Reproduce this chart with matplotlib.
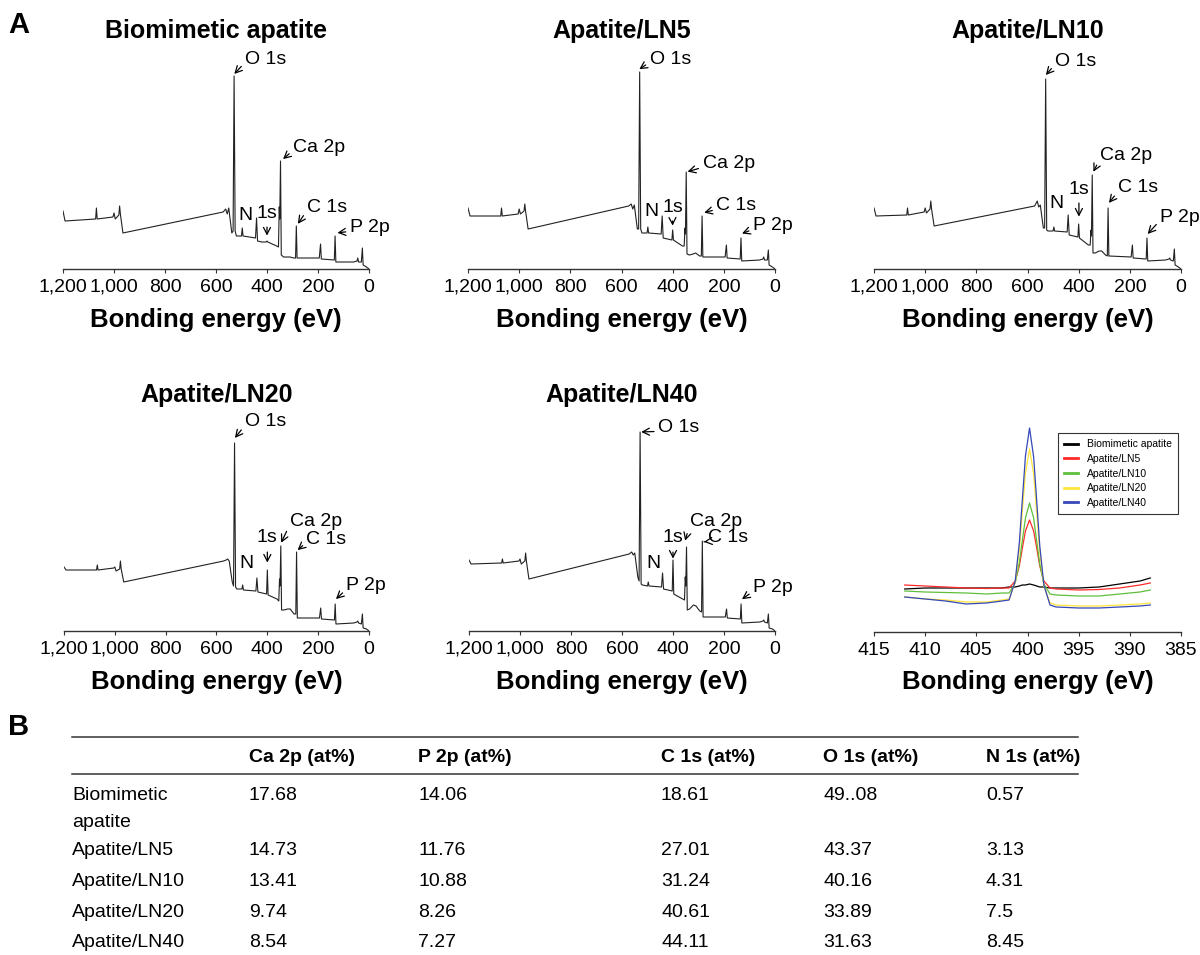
import matplotlib
matplotlib.use("Agg")
import matplotlib.pyplot as plt
from matplotlib.ticker import FuncFormatter

plt.rcParams['font.family'] = ['Liberation Sans', 'DejaVu Sans']

# XPS survey spectra, binding energy (eV) vs intensity (a.u.)
survey_energy = [1200, 1192, 1072, 1069, 1066, 1004, 1000, 995, 981, 978, 975, 965,
                 572, 562, 556, 550, 538, 533, 529, 525, 520,
                 500, 497, 494, 445, 441, 437, 420, 403, 400, 397,
                 362, 355, 352, 350, 347, 344, 335, 320, 310, 295, 288, 285, 282,
                 195, 190, 187, 136, 133, 130, 60, 47, 44, 41, 30, 26, 23, 10, 0]
biomimetic = [58, 48, 50, 61, 50, 52, 56, 50, 54, 63, 55, 36,
              57, 60, 55, 61, 36, 38, 193, 38, 33,
              33, 41, 33, 31, 51, 28, 27, 27, 28, 27,
              23, 22, 62, 50, 108, 14, 12, 12, 12, 11, 11, 43, 11,
              11, 25, 10, 9, 33, 7, 7, 8, 11, 7, 7, 21, 4, 2, 0]
ln5 = [61, 53, 53, 61, 53, 55, 60, 55, 58, 65, 58, 40,
       63, 65, 60, 64, 40, 40, 197, 40, 36,
       36, 42, 36, 35, 53, 31, 30, 29, 39, 29,
       23, 23, 41, 35, 97, 15, 14, 15, 16, 13, 13, 53, 12,
       12, 24, 11, 10, 31, 8, 9, 10, 12, 9, 9, 19, 4, 2, 0]
ln10 = [61, 53, 54, 61, 54, 57, 61, 56, 60, 68, 60, 43,
        63, 68, 62, 64, 41, 41, 190, 39, 38,
        38, 42, 38, 37, 54, 34, 33, 32, 45, 31,
        24, 24, 39, 33, 94, 16, 16, 18, 18, 14, 13, 61, 13,
        12, 24, 11, 10, 31, 8, 9, 10, 11, 9, 8, 20, 4, 2, 0]
ln20 = [64, 61, 61, 66, 61, 63, 64, 60, 62, 70, 62, 49,
        70, 71, 72, 70, 49, 45, 188, 44, 42,
        42, 46, 41, 40, 53, 39, 38, 37, 61, 36,
        32, 30, 52, 45, 85, 21, 21, 22, 22, 17, 17, 79, 13,
        13, 23, 12, 11, 27, 7, 8, 9, 10, 8, 7, 17, 3, 2, 0]
ln40 = [71, 67, 68, 72, 68, 70, 72, 67, 70, 78, 70, 52,
        77, 79, 76, 78, 54, 50, 199, 47, 46,
        45, 49, 45, 44, 58, 42, 41, 40, 71, 37,
        32, 31, 54, 45, 84, 21, 22, 26, 25, 20, 19, 90, 14,
        14, 22, 13, 12, 27, 8, 9, 10, 11, 9, 8, 17, 3, 2, 0]

survey_titles = ["Biomimetic apatite", "Apatite/LN5", "Apatite/LN10",
                 "Apatite/LN20", "Apatite/LN40"]
survey_data = [biomimetic, ln5, ln10, ln20, ln40]

# peak labels: (text, text position, arrow tip) in data coords
peak_labels = [
    [("O 1s", (486, 210), (532, 194)), ("Ca 2p", (298, 122), (341, 109)),
     ("C 1s", (243, 62), (282, 44)), ("P 2p", (75, 41), (129, 36))],
    [("O 1s", (490, 210), (535, 199)), ("Ca 2p", (283, 105), (347, 97)),
     ("C 1s", (229, 63), (282, 56)), ("P 2p", (86, 43), (134, 35))],
    [("O 1s", (492, 208), (532, 193)), ("Ca 2p", (316, 114), (345, 96)),
     ("C 1s", (246, 81), (285, 65)), ("P 2p", (82, 52), (134, 34))],
    [("O 1s", (488, 209), (531, 192)), ("Ca 2p", (311, 110), (348, 87)),
     ("C 1s", (246, 92), (285, 80)), ("P 2p", (89, 45), (134, 31))],
    [("O 1s", (458, 203), (530, 199)), ("Ca 2p", (334, 110), (354, 89)),
     ("C 1s", (262, 93), (284, 89)), ("P 2p", (86, 43), (134, 31))],
]
# "N 1s" label is split: N on the left, "1s" with a down arrow
n_pos = [(486, 53), (484, 58), (488, 65), (482, 68), (478, 68)]
n1s_text = [(400, 56), (401, 62), (399, 80), (400, 93), (400, 93)]
n1s_tip = [(400, 32), (400, 42), (399, 51), (400, 67), (400, 71)]

# high resolution N 1s spectra
n1s_energy = [412, 410, 408, 406, 404, 402.5, 401.8, 401.2, 400.8, 400.5, 400.2, 399.8,
              399.4, 399.1, 398.8, 398.4, 397.8, 397.2, 395, 393, 391, 389, 388]
n1s_bio = [43, 44, 44, 44, 44, 44, 45, 45, 46, 47, 47, 48, 47, 46, 45, 45, 44, 44, 44, 45, 48, 51, 54]
n1s_ln5 = [47, 46, 45, 44, 43.5, 44, 44, 51, 66, 84, 101, 112, 101, 84, 66, 51, 44, 43, 42, 42.5, 44, 47, 49]
n1s_ln10 = [41, 40, 39.5, 39, 38, 39, 39, 49, 69, 92, 114, 129, 114, 91, 68, 48, 38, 37, 36, 36, 38, 40, 42]
n1s_ln20 = [35, 33, 32, 30, 30, 32, 33, 50, 82, 121, 159, 183, 158, 119, 80, 46, 29, 27, 26, 26, 27, 28, 29]
n1s_ln40 = [35, 33, 31, 28, 29, 31, 32, 51, 89, 133, 176, 204, 175, 131, 86, 47, 27, 25, 24, 24, 25, 26, 27]
n1s_series = [n1s_bio, n1s_ln5, n1s_ln10, n1s_ln20, n1s_ln40]
n1s_names = ["Biomimetic apatite", "Apatite/LN5", "Apatite/LN10", "Apatite/LN20", "Apatite/LN40"]
n1s_colors = ["#000000", "#ff2a2a", "#5fbf3c", "#ffe53a", "#3548b8"]

# table B
table_header = ["", "Ca 2p (at%)", "P 2p (at%)", "C 1s (at%)", "O 1s (at%)", "N 1s (at%)"]
table_samples = ["Biomimetic\napatite", "Apatite/LN5", "Apatite/LN10", "Apatite/LN20", "Apatite/LN40"]
ca2p = ["17.68", "14.73", "13.41", "9.74", "8.54"]
p2p = ["14.06", "11.76", "10.88", "8.26", "7.27"]
c1s = ["18.61", "27.01", "31.24", "40.61", "44.11"]
o1s = ["49..08", "43.37", "40.16", "33.89", "31.63"]
n1s = ["0.57", "3.13", "4.31", "7.5", "8.45"]

W, H = 1200, 955
fig = plt.figure(figsize=(12, 9.55), dpi=100)


def px_axes(x0, x1, ybot, h=220):
    return fig.add_axes([x0 / W, 1 - ybot / H, (x1 - x0) / W, h / H])


def style(ax):
    for s in ['left', 'top', 'right']:
        ax.spines[s].set_visible(False)
    ax.spines['bottom'].set_linewidth(1.0)
    ax.spines['bottom'].set_color('#333333')
    ax.patch.set_alpha(0)
    ax.set_yticks([])
    ax.set_ylim(0, 220)
    ax.tick_params(axis='x', direction='out', length=3, width=0.8, color='#333333',
                   labelsize=14, pad=4)
    ax.set_xlabel("Bonding energy (eV)", fontsize=18.5, fontweight='bold')
    ax.xaxis.set_label_coords(0.5, -0.175)


boxes = [(63, 369, 269), (468, 775, 269), (874, 1181, 269), (64, 369, 631), (469, 775, 631)]
arrow = dict(arrowstyle='->,head_length=0.35,head_width=0.18', lw=0.9, color='black',
             shrinkA=1, shrinkB=1, relpos=(0.0, 0.3))

for i, (x0, x1, yb) in enumerate(boxes):
    ax = px_axes(x0, x1, yb)
    ax.plot(survey_energy, survey_data[i], color='#222222', lw=0.8)
    ax.set_xlim(1200, 0)
    ax.set_xticks(range(0, 1201, 200))
    ax.xaxis.set_major_formatter(FuncFormatter(lambda v, p: f"{int(v):,}"))
    style(ax)
    ty = 1.05 if yb < 400 else 1.042
    ax.text(0.5, ty, survey_titles[i], transform=ax.transAxes, ha='center', va='baseline',
            fontsize=18, fontweight='bold')
    for txt, tpos, tip in peak_labels[i]:
        ax.annotate(txt, xy=tip, xytext=tpos, ha='left', va='center', fontsize=14,
                    arrowprops=arrow, annotation_clip=False)
    ax.text(n_pos[i][0], n_pos[i][1], "N", ha='center', va='center', fontsize=14)
    ax.annotate("1s", xy=n1s_tip[i], xytext=n1s_text[i], ha='center', va='center', fontsize=14,
                arrowprops=dict(arrow, relpos=(0.5, 0.0), shrinkA=2))

# N 1s panel
ax = px_axes(874, 1181, 632)
for vals, name, col in zip(n1s_series, n1s_names, n1s_colors):
    ax.plot(n1s_energy, vals, color=col, lw=0.9, label=name)
ax.set_xlim(415, 385)
ax.set_xticks(range(385, 416, 5))
style(ax)
leg = ax.legend(loc='upper right', bbox_to_anchor=(0.99, 0.905), borderaxespad=0,
                fontsize=7.5, frameon=True, fancybox=False, edgecolor='black',
                handlelength=1.4, labelspacing=0.45, borderpad=0.6)
leg.get_frame().set_linewidth(0.8)
for line in leg.get_lines():
    line.set_linewidth(2)

# panel letters and table
tab = fig.add_axes([0, 0, 1, 1])
tab.set_xlim(0, W)
tab.set_ylim(H, 0)
tab.axis('off')
tab.patch.set_alpha(0)
tab.text(8, 25, "A", fontsize=21, fontweight='bold', ha='left', va='center')
tab.text(8, 727, "B", fontsize=21, fontweight='bold', ha='left', va='center')

col_x = [72, 249, 418, 661, 823, 986]
header_y = 757
row_y = [795, 850, 881, 912, 942]
tab.plot([72, 1078], [737, 737], color='#333333', lw=1.1)
tab.plot([72, 1078], [774, 774], color='#333333', lw=1.1)
for x, h in zip(col_x, table_header):
    tab.text(x, header_y, h, fontsize=14, fontweight='bold', ha='left', va='center')
columns = [ca2p, p2p, c1s, o1s, n1s]
for r, y in enumerate(row_y):
    for k, part in enumerate(table_samples[r].split("\n")):
        tab.text(col_x[0], y + 27 * k, part, fontsize=14, ha='left', va='center')
    for c, vals in enumerate(columns):
        tab.text(col_x[c + 1], y, vals[r], fontsize=14, ha='left', va='center')

fig.savefig("out.png", dpi=100)
